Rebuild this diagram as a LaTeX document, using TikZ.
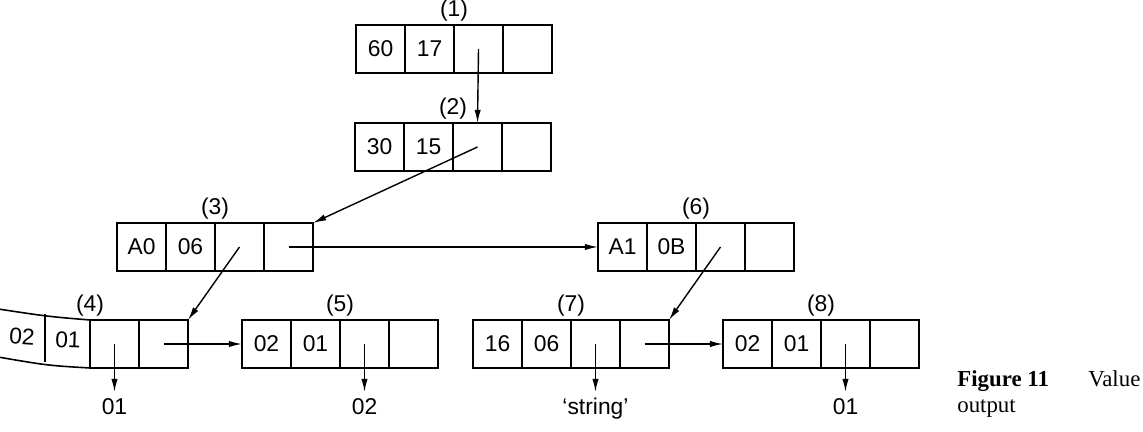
\documentclass[tikz,border=0pt]{standalone}
\usepackage{fontspec}
\setmainfont{Liberation Serif}
\setsansfont{Liberation Sans}
\usepackage{tikz}
\usetikzlibrary{positioning,arrows.meta}

\tikzset{
  cell/.style={draw, line width=0.9pt, minimum width=0.98cm, minimum height=0.96cm,
    inner sep=0pt, outer sep=0pt, font=\sffamily\fontsize{13}{15}\selectfont},
  tag/.style={font=\sffamily\fontsize{13}{15}\selectfont},
  num/.style={tag, inner sep=0.5pt},
  ptr/.style={->, line width=0.8pt},
}

\begin{document}
\begin{tikzpicture}[>={Latex[length=7.5pt,width=3.6pt]}]
    \useasboundingbox (0,0) rectangle (22.86,8.64);
    % records with four cells each
    \foreach \n/\x/\y/\a/\b in {1/7.61/7.66/60/17, 2/7.59/5.70/30/15,
        3/2.83/3.70/A0/06, 6/12.45/3.70/A1/0B, 5/5.33/1.76/02/01,
        7/9.95/1.76/16/06, 8/14.95/1.76/02/01} {
      \node[cell] (r\n-a) at (\x,\y) {\a};
      \node[cell,right=0pt of r\n-a] (r\n-b) {\b};
      \node[cell,right=0pt of r\n-b] (r\n-c) {};
      \node[cell,right=0pt of r\n-c] (r\n-d) {};
      \node[num,above=1.2pt] (l\n) at (r\n-c.north west) {(\n)};
    }
    % record (4), bent off the left edge
    \node[cell] (r4-c) at (2.29,1.76) {};
    \node[cell,right=0pt of r4-c] (r4-d) {};
    \node[num,above=1.2pt] (l4) at (r4-c.north west) {(4)};
    \draw[line width=0.9pt] (r4-c.north west) .. controls (0.95,2.31) .. (-0.1,2.47);
    \draw[line width=0.9pt] (r4-c.south west) .. controls (0.95,1.33) .. (-0.1,1.51);
    \draw[line width=0.9pt] (0.9,2.35) -- (0.9,1.40);
    \node[tag,rotate=-4] (r4-a) at (0.44,1.90) {02};
    \node[tag,rotate=-2] (r4-b) at (1.36,1.84) {01};
    % values
    \node[tag,below=0.48cm of r4-c.south] (v4) {01};
    \node[tag,below=0.48cm of r5-c.south] (v5) {02};
    \node[tag,below=0.48cm of r7-c.south] (v7) {`string'};
    \node[tag,below=0.48cm of r8-c.south] (v8) {01};
    % pointers
    \draw[ptr] (r1-c.center) -- (r2-c.north);
    \draw[ptr] (r2-c.center) -- (r3-d.north east);
    \draw[ptr] (r3-c.center) -- (r4-d.north east);
    \draw[ptr] (r3-d.center) -- (r6-a.west);
    \draw[ptr] (r6-c.center) -- (r7-d.north east);
    \draw[ptr] (r4-d.center) -- (r5-a.west);
    \draw[ptr] (r7-d.center) -- (r8-a.west);
    \draw[ptr] (r4-c.center) -- (v4.north);
    \draw[ptr] (r5-c.center) -- (v5.north);
    \draw[ptr] (r7-c.center) -- (v7.north);
    \draw[ptr] (r8-c.center) -- (v8.north);
    % caption
    \node[anchor=base west,inner sep=0pt,font=\fontsize{13}{15}\selectfont\bfseries] (fig) at (19.14,0.90) {Figure 11};
    \node[anchor=base west,inner sep=0pt,font=\fontsize{13}{15}\selectfont] (val) at (21.76,0.90) {Value};
    \node[anchor=base west,inner sep=0pt,font=\fontsize{13}{15}\selectfont] (out) at (19.14,0.38) {output};
  \end{tikzpicture}
\end{document}
